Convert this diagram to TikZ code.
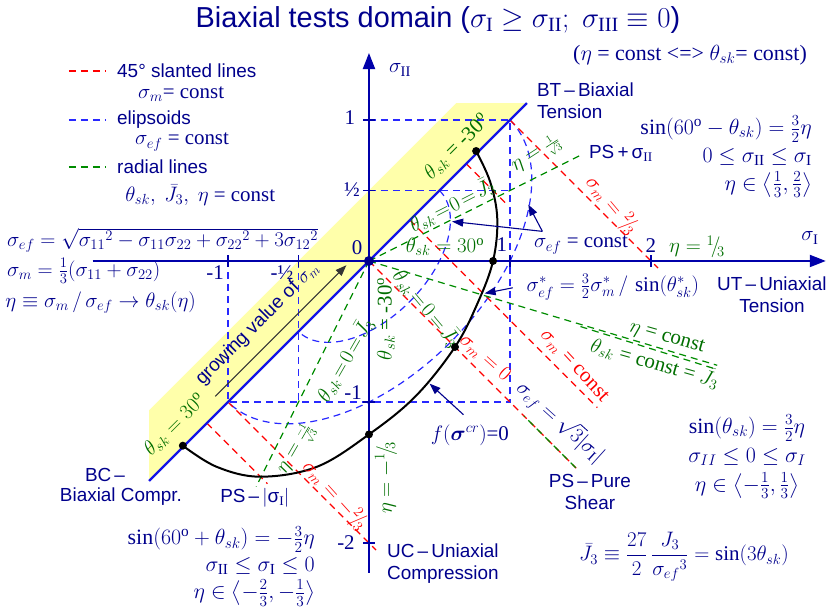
\RequirePackage{fix-cm}
\documentclass[tikz,border=0pt]{standalone}
\usepackage{amsmath}
\usepackage{fontspec}
\setmainfont{Liberation Serif}
\setsansfont{Liberation Sans}
\usetikzlibrary{arrows.meta}

\definecolor{axisblue}{RGB}{0,0,170}
\definecolor{textblue}{RGB}{0,0,140}
\definecolor{dashblue}{RGB}{40,40,255}
\definecolor{diagblue}{RGB}{20,20,230}
\definecolor{slantred}{RGB}{255,0,0}
\definecolor{radgreen}{RGB}{0,140,0}
\definecolor{txtgreen}{RGB}{0,110,0}
\definecolor{bandyellow}{RGB}{255,255,170}

\newcommand{\slfrac}[2]{{}^{#1}\!/\!{}_{#2}}

\begin{document}
\begin{tikzpicture}[
    x=141bp, y=141bp,
    lbl/.style={inner sep=0pt, text=textblue, font=\fontsize{21}{27}\selectfont},
    sflbl/.style={inner sep=0pt, text=textblue, font=\sffamily\fontsize{19}{22}\selectfont},
    grn/.style={inner sep=0pt, text=txtgreen, font=\fontsize{21}{25}\selectfont},
    rd/.style={inner sep=0pt, text=slantred, font=\fontsize{21}{25}\selectfont},
    axis/.style={axisblue, line width=2bp, -{Triangle[length=16bp,width=12bp]}},
    guide/.style={dashblue, line width=1.2bp, dash pattern=on 7bp off 5bp},
    slant/.style={slantred, line width=1.2bp, dash pattern=on 7bp off 5bp},
    radial/.style={radgreen, line width=1.2bp, dash pattern=on 7bp off 5bp},
    crit/.style={black, line width=2bp},
    ptr/.style={textblue, line width=1.1bp, -{Triangle[length=11bp,width=8bp]}},
    dot/.style={circle, fill=black, inner sep=0pt, minimum size=8bp}
]
\useasboundingbox (-2.617, -2.489) rectangle (3.277, 1.851);

% --- Band of growing sigma_m ---
\fill[bandyellow] (-1.56, -1.56) -- (1.12, 1.12) -- (0.62, 1.12) -- (-1.56, -1.06) -- cycle;

% --- Ellipsoids sigma_ef = const ---
\draw[guide] (0, 1) -- (1, 1) -- (1, -1) -- (-1, -1) -- (-1, 0);
\draw[guide] (0, 0.5) -- (1, 0.5);
\draw[guide] (-0.5, 0) -- (-0.5, -1);
\draw[guide, rotate=45] (1.4142, 0) arc[start angle=0, end angle=-180, x radius=1.4142, y radius=0.8165];
\draw[guide, rotate=45] (0.7071, 0) arc[start angle=0, end angle=-180, x radius=0.7071, y radius=0.4082];

% --- 45 deg slanted lines sigma_m = const ---
\draw[slant] (1, 1) -- (2.05, -0.05);
\draw[slant] (0.69, 0.69) -- (0.98, 0.40);
\draw[slant] (0.29, 0.29) -- (1.62, -1.04);
\draw[slant] (0, 0) -- (1.47, -1.47);
\draw[slant] (-1, -1) -- (0.05, -2.05);
\draw[slant] (-1.15, -1.15) -- (-0.72, -1.58);

% --- Radial lines ---
\draw[radial] (0, 0) -- (1.51, 0.755);
\draw[radial] (0, 0) -- (2.47, -0.74);
\draw[radial] (1.5, -0.465) -- (2.47, -0.77);
\draw[radial] (0, 0) -- (-0.8, -1.6);
\draw[radial, dash phase=6bp] (1.1, -1.1) -- (1.47, -1.47);

% --- Axes ---
\draw[diagblue, line width=2.2bp] (-1.56, -1.56) -- (1.12, 1.12);
\draw[axis] (-1.96, 0) -- (3.24, 0);
\draw[axis] (0, -2.21) -- (0, 1.475);
\foreach \t in {-1, -0.5, 1, 2}
    \draw[axisblue, line width=1.2bp] (\t, -0.04) -- (\t, 0.04);
\foreach \t in {-2, -1, 0.5, 1}
    \draw[axisblue, line width=1.2bp] (-0.04, \t) -- (0.04, \t);

% --- Failure curve ---
\draw[crit] plot[smooth, tension=0.6] coordinates {(-1.32, -1.31) (-1.08, -1.46) (-0.77, -1.53) (-0.37, -1.46) (0, -1.23) (0.33, -0.96) (0.61, -0.61) (0.77, -0.30) (0.88, 0) (0.91, 0.30) (0.86, 0.56) (0.76, 0.78)};
\node (dBT) at (0.76, 0.78) [dot] {};
\node (dUT) at (0.88, 0) [dot] {};
\node (dPS) at (0.61, -0.61) [dot] {};
\node (dUC) at (0, -1.23) [dot] {};
\node (dBC) at (-1.32, -1.31) [dot] {};
\node (O) at (0, 0) [circle, fill=textblue, inner sep=0pt, minimum size=10bp] {};

% --- Legend ---
\draw[slant] (-2.128, 1.348) -- (-1.865, 1.348);
\draw[guide] (-2.128, 1.0) -- (-1.865, 1.0);
\draw[radial] (-2.128, 0.667) -- (-1.865, 0.667);
\node (lgRed) at (-1.787, 1.348) [sflbl, anchor=west] {45° slanted lines};
\node (lgRedB) at (-1.638, 1.184) [lbl, anchor=west] {$\sigma_m$= const};
\node (lgBlue) at (-1.787, 1.0) [sflbl, anchor=west] {elipsoids};
\node (lgBlueB) at (-1.66, 0.844) [lbl, anchor=west] {$\sigma_{ef}$ = const};
\node (lgGreen) at (-1.787, 0.667) [sflbl, anchor=west] {radial lines};
\node (lgGreenB) at (-1.73, 0.468) [lbl, anchor=west] {$\theta_{sk},\ \bar{J}_3,\ \eta$ = const};

% --- Title and definitions ---
\node (title) at (0.489, 1.709) [sflbl, font=\sffamily\fontsize{29}{32}\selectfont] {Biaxial tests domain ($\sigma_{\rm I}\geq\sigma_{\rm II};\ \sigma_{\rm III}\equiv 0$)};
\node (equiv) at (2.277, 1.461) [lbl, font=\fontsize{22}{27}\selectfont] {($\eta$ = const <=> $\theta_{sk}$= const)};
\node (fEf) at (-2.567, 0.149) [lbl, anchor=west] {$\sigma_{ef}=\sqrt{\sigma_{11}{}^2-\sigma_{11}\sigma_{22}+\sigma_{22}{}^2+3\sigma_{12}{}^2}$};
\node (fM) at (-2.567, -0.071) [lbl, anchor=west] {$\sigma_m=\frac13(\sigma_{11}+\sigma_{22})$};
\node (fEta) at (-2.58, -0.298) [lbl, anchor=west] {$\eta\equiv\sigma_m\,/\,\sigma_{ef}\rightarrow\theta_{sk}(\eta)$};

% --- Axis labels ---
\node (l0) at (-0.085, 0.092) [lbl] {0};
\node (lxm1) at (-1.092, -0.085) [lbl] {-1};
\node (lxmh) at (-0.617, -0.085) [lbl] {-½};
\node (lx1) at (0.943, 0.113) [lbl] {1};
\node (lx2) at (2.0, 0.106) [lbl] {2};
\node (ly1) at (-0.135, 1.014) [lbl] {1};
\node (lyh) at (-0.12, 0.504) [lbl] {½};
\node (lym1) at (-0.113, -0.936) [lbl] {-1};
\node (lym2) at (-0.163, -2.0) [lbl] {-2};
\node (sII) at (0.22, 1.355) [lbl] {$\sigma_{\rm II}$};
\node (sI) at (3.128, 0.163) [lbl] {$\sigma_{\rm I}$};

% --- Test states ---
\node (bt) at (1.191, 1.135) [sflbl, anchor=west, align=left] {BT\,–\,Biaxial\\Tension};
\node (ut) at (2.858, -0.241) [sflbl, align=center] {UT\,–\,Uniaxial\\Tension};
\node (ps) at (1.567, -1.638) [sflbl, align=center] {PS\,–\,Pure\\Shear};
\node (psPlus) at (1.787, 0.766) [sflbl] {PS\,+\,σ$_{\rm II}$};
\node (psMinus) at (-0.809, -1.681) [sflbl] {PS\,–\,$|$σ$_{\rm I}|$};
\node (bc1) at (-1.872, -1.518) [sflbl] {BC\,–};
\node (bc2) at (-1.759, -1.674) [sflbl] {Biaxial Compr.};
\node (uc) at (0.128, -2.149) [sflbl, anchor=west, align=left] {UC\,–\,Uniaxial\\Compression};

% --- Region formulas ---
\node (tens) at (3.142, 0.738) [lbl, anchor=east, align=right, font=\fontsize{22}{28}\selectfont] {$\sin(60^{\rm o}-\theta_{sk})=\frac32\eta$\\ $0\leq\sigma_{\rm II}\leq\sigma_{\rm I}$\\ $\eta\in\left\langle\frac13,\frac23\right\rangle$};
\node (shear) at (2.681, -1.39) [lbl, align=center, font=\fontsize{22}{29}\selectfont] {$\sin(\theta_{sk})=\frac32\eta$\\ $\sigma_{II}\leq0\leq\sigma_I$\\ $\eta\in\left\langle-\frac13,\frac13\right\rangle$};
\node (compr) at (-0.383, -2.165) [lbl, anchor=east, align=right, font=\fontsize{22}{27}\selectfont] {$\sin(60^{\rm o}+\theta_{sk})=-\frac32\eta$\\ $\sigma_{\rm II}\leq\sigma_{\rm I}\leq0$\\ $\eta\in\left\langle-\frac23,-\frac13\right\rangle$};
\node (jbar) at (2.234, -2.099) [lbl] {$\bar J_3\equiv\dfrac{27}{2}\,\dfrac{J_3}{\sigma_{ef}{}^3}=\sin(3\theta_{sk})$};
\node (efStar) at (1.73, -0.184) [lbl] {$\sigma^*_{ef}=\frac32\sigma^*_m\,/\,\sin(\theta^*_{sk})$};
\node (efConst) at (1.504, 0.113) [lbl] {$\sigma_{ef}$ = const};
\node (fcr) at (0.716, -1.234) [lbl] {$f(\boldsymbol{\sigma}^{cr})$=0};
\node (efPs) at (1.36, -1.14) [lbl, rotate=-42] {$\sigma_{ef}=\sqrt3|\sigma_{\rm I}|$};

% --- Line labels ---
\node (etaThird) at (2.326, 0.099) [grn] {$\eta=\slfrac13$};
\node (etaConst) at (2.113, -0.546) [grn, rotate=-16] {$\eta$ = const};
\node (thConst) at (2.028, -0.723) [grn, rotate=-16] {$\theta_{sk}$ = const = $\bar J_3$};
\node (thZeroR) at (0.411, -0.333) [grn, rotate=-50] {$\theta_{sk}\!=\!0\!=\!\bar J_3$};
\node (thZeroL) at (-0.17, -0.70) [grn, rotate=60] {$\theta_{sk}\!=\!0\!=\!\bar J_3$};
\node (thZeroU) at (0.589, 0.397) [grn, rotate=27] {$\theta_{sk}\!=\!0\!=\!\bar J_3$};
\node (thUC) at (0.121, -0.411) [grn, rotate=90] {$\theta_{sk}$ = -30$^{\rm o}$};
\node (etaUC) at (0.121, -1.539) [grn, rotate=90] {$\eta=-\slfrac13$};
\node (etaPsm) at (-0.51, -1.34) [grn, rotate=60] {$\eta={\scriptstyle\frac{-1}{\sqrt3}}$};
\node (etaPsp) at (1.191, 0.752) [grn, rotate=33] {$\eta={\scriptstyle\frac{1}{\sqrt3}}$};
\node (thBC) at (-1.376, -1.163) [grn, rotate=45] {$\theta_{sk}=30^{\rm o}$};
\node (thBT) at (0.624, 0.809) [grn, rotate=45] {$\theta_{sk}$ = -30$^{\rm o}$};
\node (thUT) at (0.539, 0.099) [grn] {$\theta_{sk}=30^{\rm o}$};
\node (smTwo) at (1.723, 0.397) [rd, rotate=-50] {$\sigma_m=\slfrac23$};
\node (smConst) at (1.454, -0.745) [rd, rotate=-47] {$\sigma_m$ = const};
\node (smZero) at (0.823, -0.688) [rd, rotate=-42] {$\sigma_m=0$};
\node (smMTwo) at (-0.241, -1.66) [rd, rotate=-48] {$\sigma_m=-\slfrac23$};
\node (grow) at (-0.79, -0.445) [sflbl, rotate=45] {growing value of $\sigma_m$};

% --- Pointers ---
\coordinate (efcTail) at (1.23, 0.21);
\coordinate (inEl) at (0.59, 0.28);
\coordinate (outEl) at (1.13, 0.40);
\coordinate (starTail) at (1.02, -0.19);
\coordinate (starPt) at (0.82, -0.23);
\coordinate (fTail) at (0.67, -1.09);
\coordinate (fPt) at (0.43, -0.87);
\coordinate (growTail) at (-1.09, -0.96);
\coordinate (growHead) at (-0.16, -0.03);
\draw[ptr] (efcTail) -- (inEl);
\draw[ptr] (efcTail) -- (outEl);
\draw[ptr] (starTail) -- (starPt);
\draw[ptr] (fTail) -- (fPt);
\draw[ptr, draw=black!80] (growTail) -- (growHead);

\end{tikzpicture}
\end{document}
